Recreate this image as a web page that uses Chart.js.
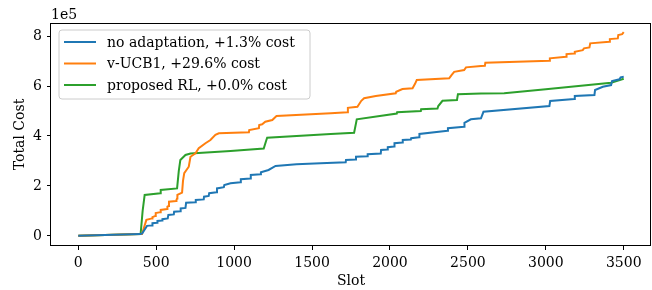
<!DOCTYPE html>
<html>
<head>
<meta charset="utf-8">
<script src="https://cdn.jsdelivr.net/npm/chart.js@4.4.1/dist/chart.umd.min.js"></script>
<style>
  html, body { margin: 0; padding: 0; background: #fff; }
  #wrap { width: 652px; height: 290px; }
</style>
</head>
<body>
<div id="wrap"><canvas id="grafico" width="652" height="290"></canvas></div>
<script>
// cost values are in units of 1e5
const labels = ["no adaptation, +1.3% cost", "v-UCB1, +29.6% cost", "proposed RL, +0.0% cost"];
const colors = ["#1f77b4", "#ff7f0e", "#2ca02c"];

const blueSlot = [0, 400, 410, 441, 474, 476, 506, 508, 538, 540, 574, 578, 613, 615, 655, 657, 688, 692, 752, 754,
  805, 807, 837, 840, 887, 890, 934, 937, 977, 1041, 1043, 1105, 1107, 1170, 1172, 1221, 1266, 1400, 1555,
  1716, 1718, 1780, 1782, 1855, 1857, 1941, 1943, 1984, 1986, 2027, 2029, 2080, 2082, 2134, 2136, 2187, 2189,
  2370, 2372, 2476, 2478, 2519, 2584, 2600, 3023, 3028, 3183, 3186, 3312, 3316, 3366, 3419, 3425, 3473, 3480, 3500];
const blueCost = [0, 0.07, 0.1, 0.4, 0.42, 0.51, 0.53, 0.6, 0.62, 0.67, 0.7, 0.84, 0.86, 0.97, 0.99, 1.1, 1.12, 1.33, 1.35, 1.44,
  1.46, 1.57, 1.6, 1.71, 1.75, 1.9, 1.95, 2.04, 2.11, 2.15, 2.27, 2.3, 2.44, 2.47, 2.55, 2.64, 2.8, 2.87, 2.91,
  2.95, 3.04, 3.06, 3.17, 3.19, 3.27, 3.3, 3.44, 3.46, 3.55, 3.58, 3.71, 3.74, 3.84, 3.86, 3.91, 3.95, 4.08,
  4.21, 4.31, 4.37, 4.53, 4.67, 4.71, 4.97, 5.2, 5.4, 5.48, 5.6, 5.64, 5.84, 5.97, 6.04, 6.2, 6.27, 6.35, 6.37];

const orangeSlot = [0, 400, 409, 437, 474, 476, 495, 497, 527, 529, 570, 572, 580, 582, 628, 630, 634, 636, 666, 672,
  680, 709, 720, 752, 773, 816, 848, 880, 902, 1095, 1097, 1159, 1161, 1180, 1200, 1245, 1272, 1620,
  1727, 1730, 1791, 1816, 1834, 1909, 2037, 2040, 2080, 2145, 2160, 2172, 2380, 2395, 2412, 2476, 2488, 2584,
  2609, 2612, 3023, 3026, 3130, 3133, 3183, 3186, 3237, 3245, 3280, 3285, 3408, 3411, 3462, 3465, 3490, 3500];
const orangeCost = [0, 0.07, 0.07, 0.64, 0.7, 0.75, 0.8, 0.91, 0.95, 1.04, 1.08, 1.17, 1.2, 1.37, 1.4, 1.44, 1.5, 1.64, 1.73, 2.2,
  2.51, 2.77, 3.17, 3.31, 3.51, 3.71, 3.84, 4.05, 4.11, 4.15, 4.24, 4.31, 4.44, 4.47, 4.57, 4.64, 4.8, 4.91,
  4.95, 5.13, 5.17, 5.41, 5.51, 5.6, 5.71, 5.77, 5.88, 5.91, 6.08, 6.24, 6.31, 6.44, 6.57, 6.64, 6.75, 6.8,
  6.81, 6.93, 7.01, 7.11, 7.17, 7.28, 7.3, 7.37, 7.44, 7.51, 7.55, 7.71, 7.77, 7.88, 7.91, 8.04, 8.08, 8.16];

const greenSlot = [0, 400, 413, 426, 527, 529, 634, 645, 655, 688, 720, 977, 1190, 1205, 1212, 1620, 1770, 1787,
  2044, 2046, 2198, 2200, 2305, 2310, 2337, 2430, 2436, 2584, 2733, 3000, 3419, 3500];
const greenCost = [0, 0.07, 1.0, 1.64, 1.71, 1.84, 1.9, 2.6, 3.04, 3.24, 3.3, 3.4, 3.5, 3.8, 3.93, 4.08, 4.13, 4.67,
  4.9, 4.95, 5.0, 5.07, 5.1, 5.2, 5.41, 5.44, 5.67, 5.7, 5.71, 5.87, 6.13, 6.29];

const xTicks = [0, 500, 1000, 1500, 2000, 2500, 3000, 3500];
const yTicks = [0, 2, 4, 6, 8];

const fonte = "'DejaVu Serif', serif";

function pontos(xs, ys) {
  return xs.map((x, i) => ({ x, y: ys[i] }));
}

const moldura = {
  id: "moldura",
  afterDraw(chart) {
    const { ctx, chartArea: a } = chart;
    ctx.save();
    ctx.strokeStyle = "#000";
    ctx.lineWidth = 1;
    ctx.strokeRect(Math.round(a.left) - 0.5, Math.round(a.top) + 0.5, Math.round(a.right - a.left) , Math.round(a.bottom - a.top) - 1);

    // offset text of the y axis
    ctx.fillStyle = "#000";
    ctx.font = "14px " + fonte;
    ctx.textAlign = "left";
    ctx.textBaseline = "alphabetic";
    ctx.fillText("1e5", a.left, a.top - 4);

    // legend
    const bx = 59, by = 30, bw = 251, bh = 69, r = 3;
    ctx.beginPath();
    ctx.moveTo(bx + r, by);
    ctx.arcTo(bx + bw, by, bx + bw, by + bh, r);
    ctx.arcTo(bx + bw, by + bh, bx, by + bh, r);
    ctx.arcTo(bx, by + bh, bx, by, r);
    ctx.arcTo(bx, by, bx + bw, by, r);
    ctx.closePath();
    ctx.fillStyle = "rgba(255,255,255,0.8)";
    ctx.fill();
    ctx.strokeStyle = "#cccccc";
    ctx.lineWidth = 1;
    ctx.stroke();

    chart.data.datasets.forEach((ds, i) => {
      const y = 42 + i * 21.5;
      ctx.beginPath();
      ctx.moveTo(64, y);
      ctx.lineTo(96, y);
      ctx.strokeStyle = ds.borderColor;
      ctx.lineWidth = 2;
      ctx.stroke();
      ctx.fillStyle = "#000";
      ctx.textBaseline = "middle";
      ctx.fillText(ds.label, 107, y + 1);
    });
    ctx.restore();
  }
};

new Chart(document.getElementById("grafico"), {
  type: "line",
  data: {
    datasets: [
      { label: labels[0], data: pontos(blueSlot, blueCost), borderColor: colors[0] },
      { label: labels[1], data: pontos(orangeSlot, orangeCost), borderColor: colors[1] },
      { label: labels[2], data: pontos(greenSlot, greenCost), borderColor: colors[2] }
    ]
  },
  options: {
    responsive: false,
    animation: false,
    layout: { padding: { top: 23, right: 1, left: 0, bottom: 0 } },
    elements: {
      line: { borderWidth: 2, tension: 0, fill: false },
      point: { radius: 0 }
    },
    plugins: { legend: { display: false }, tooltip: { enabled: false } },
    scales: {
      x: {
        type: "linear",
        min: -175,
        max: 3675,
        afterBuildTicks: s => { s.ticks = xTicks.map(v => ({ value: v })); },
        afterFit: s => { s.height = 44; },
        grid: { drawOnChartArea: false, drawTicks: true, tickLength: 4, color: "#000" },
        border: { display: false },
        ticks: { color: "#000", font: { family: fonte, size: 14 }, padding: 5, maxRotation: 0, callback: v => String(v) },
        title: { display: true, text: "Slot", color: "#000", font: { family: fonte, size: 14 }, padding: { top: 3, bottom: 0 } }
      },
      y: {
        min: -0.406,
        max: 8.526,
        afterBuildTicks: s => { s.ticks = yTicks.map(v => ({ value: v })); },
        afterFit: s => { s.width = 51; },
        grid: { drawOnChartArea: false, drawTicks: true, tickLength: 4, color: "#000" },
        border: { display: false },
        ticks: { color: "#000", font: { family: fonte, size: 14 }, padding: 5, callback: v => String(v) },
        title: { display: true, text: "Total Cost", color: "#000", font: { family: fonte, size: 14 }, padding: { top: 12, bottom: 0 } }
      }
    }
  },
  plugins: [moldura]
});
</script>
</body>
</html>
